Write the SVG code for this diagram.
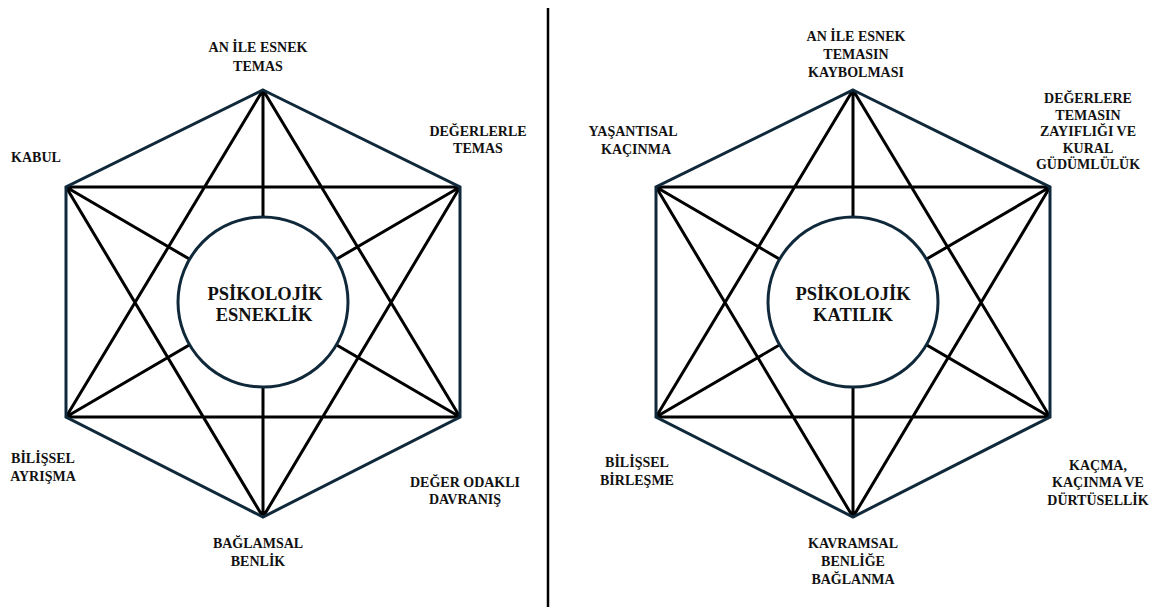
<svg xmlns="http://www.w3.org/2000/svg" width="1153" height="613" viewBox="0 0 1153 613">
<style>
.hex{fill:none;stroke:#10293a;stroke-width:3;stroke-linejoin:miter}
.ln{stroke:#000;stroke-width:3;fill:none}
.circ{fill:#fff;stroke:#10293a;stroke-width:3}
</style>
<rect width="1153" height="613" fill="#fff"/>
<g id="connectors">
  <g id="left-lines">
    <path class="ln" d="M66,187 L460,187 M66,417 L460,417 M263,90 L66,417 M263,90 L460,417 M263,517 L66,187 M263,517 L460,187 M263,90 L263,517 M66,187 L460,417 M460,187 L66,417"/>
    <polygon class="hex" points="263,90 460,187 460,417 263,517 66,417 66,187"/>
  </g>
  <g id="right-lines">
    <path class="ln" d="M656,187 L1050,187 M656,417 L1050,417 M853,90 L656,417 M853,90 L1050,417 M853,517 L656,187 M853,517 L1050,187 M853,90 L853,517 M656,187 L1050,417 M1050,187 L656,417"/>
    <polygon class="hex" points="853,90 1050,187 1050,417 853,517 656,417 656,187"/>
  </g>
  <line id="divider" x1="548" y1="8" x2="548" y2="607" stroke="#000" stroke-width="2.5"/>
</g>
<g font-family="Liberation Serif, Times New Roman, serif" font-weight="bold" fill="#111" text-anchor="middle">
<g font-size="18.5">
<g id="center-left">
  <circle class="circ" cx="263" cy="302" r="85"/>
  <text x="265" y="300">PSİKOLOJİK</text>
  <text x="264" y="321">ESNEKLİK</text>
</g>
<g id="center-right">
  <circle class="circ" cx="853" cy="302" r="85"/>
  <text x="853" y="300">PSİKOLOJİK</text>
  <text x="853" y="321">KATILIK</text>
</g>
</g>
<g font-size="14">
<g id="l-top"><text x="258" y="52">AN İLE ESNEK</text><text x="258" y="71">TEMAS</text></g>
<g id="l-topright"><text x="478" y="136">DEĞERLERLE</text><text x="478" y="153">TEMAS</text></g>
<g id="l-topleft"><text x="36" y="162">KABUL</text></g>
<g id="l-bottomleft"><text x="43" y="463">BİLİŞSEL</text><text x="43" y="481">AYRIŞMA</text></g>
<g id="l-bottomright"><text x="465" y="487">DEĞER ODAKLI</text><text x="465" y="504">DAVRANIŞ</text></g>
<g id="l-bottom"><text x="258" y="548">BAĞLAMSAL</text><text x="258" y="566">BENLİK</text></g>
<g id="r-top"><text x="856" y="41">AN İLE ESNEK</text><text x="856" y="59">TEMASIN</text><text x="856" y="77">KAYBOLMASI</text></g>
<g id="r-topleft"><text x="633" y="136">YAŞANTISAL</text><text x="636" y="154">KAÇINMA</text></g>
<g id="r-topright"><text x="1088" y="103">DEĞERLERE</text><text x="1088" y="120">TEMASIN</text><text x="1088" y="136">ZAYIFLIĞI VE</text><text x="1088" y="153">KURAL</text><text x="1088" y="169">GÜDÜMLÜLÜK</text></g>
<g id="r-bottomleft"><text x="637" y="467">BİLİŞSEL</text><text x="637" y="485">BİRLEŞME</text></g>
<g id="r-bottomright"><text x="1098" y="470">KAÇMA,</text><text x="1098" y="487">KAÇINMA VE</text><text x="1098" y="505">DÜRTÜSELLİK</text></g>
<g id="r-bottom"><text x="853" y="548">KAVRAMSAL</text><text x="853" y="566">BENLİĞE</text><text x="853" y="584">BAĞLANMA</text></g>
</g>
</g>
</svg>
